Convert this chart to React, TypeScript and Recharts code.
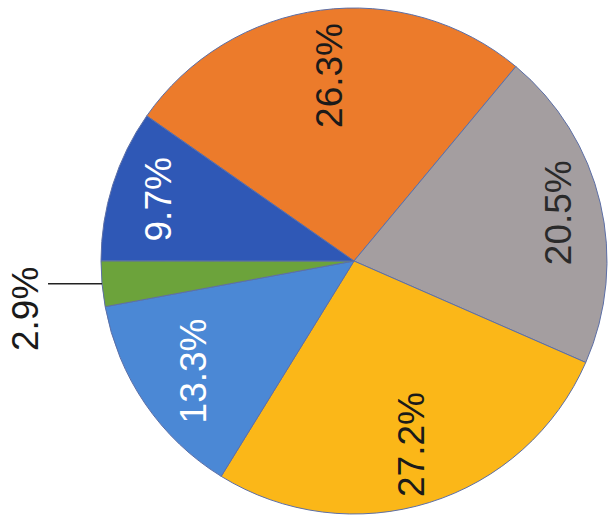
import React from "react";
import { PieChart, Pie, Cell } from "recharts";

const categories = ["Category 1", "Category 2", "Category 3", "Category 4", "Category 5", "Category 6"];
const shares = [26.3, 20.5, 27.2, 13.3, 2.9, 9.7];
const sliceColors = ["#EC7B2B", "#A49EA0", "#FBB718", "#4B88D5", "#6CA33B", "#2F58B6"];
const labelColors = ["#1a1a1a", "#2a2a2a", "#1a1a1a", "#ffffff", "#1a1a1a", "#ffffff"];
const labelRadiusFactor = [0.74, 0.83, 0.76, 0.77, 1, 0.81];
const outsideIndex = 4;

const data = categories.map((name, i) => ({ name, value: shares[i] }));
const RADIAN = Math.PI / 180;
const FONT = "'Liberation Sans', Arial, sans-serif";

const renderLabel = (props: any) => {
  const { cx, cy, midAngle, outerRadius, index, value } = props;
  const cos = Math.cos(-midAngle * RADIAN);
  const sin = Math.sin(-midAngle * RADIAN);
  if (index === outsideIndex) {
    const ex = cx + outerRadius * cos;
    const ey = cy + outerRadius * sin;
    const lx = ex - 54;
    const tx = ex - 77;
    const ty = ey + 25;
    return (
      <g key={`l-${index}`}>
        <line x1={ex} y1={ey} x2={lx} y2={ey} stroke="#222" strokeWidth={1.5} />
        <text
          x={tx}
          y={ty}
          fill="#1a1a1a"
          fontSize={37}
          fontFamily={FONT}
          textAnchor="middle"
          dominantBaseline="central"
          transform={`rotate(-90, ${tx}, ${ty})`}
        >
          {`${value}%`}
        </text>
      </g>
    );
  }
  const r = outerRadius * labelRadiusFactor[index];
  const x = cx + r * cos;
  const y = cy + r * sin;
  return (
    <text
      key={`l-${index}`}
      x={x}
      y={y}
      fill={labelColors[index]}
      fontSize={37}
      fontFamily={FONT}
      textAnchor="middle"
      dominantBaseline="central"
      transform={`rotate(-90, ${x}, ${y})`}
    >
      {`${value}%`}
    </text>
  );
};

export default function App() {
  return (
    <div style={{ position: "absolute", left: 0, top: 0, background: "#fff" }}>
      <PieChart width={611} height={519} margin={{ top: 0, right: 0, bottom: 0, left: 0 }}>
        <Pie
          data={data}
          dataKey="value"
          nameKey="name"
          cx={354}
          cy={261}
          outerRadius={253}
          startAngle={145}
          endAngle={-215}
          stroke="#5d6fa6"
          strokeWidth={1}
          label={renderLabel}
          labelLine={false}
          isAnimationActive={false}
        >
          {data.map((d, i) => (
            <Cell key={d.name} fill={sliceColors[i]} />
          ))}
        </Pie>
      </PieChart>
    </div>
  );
}
